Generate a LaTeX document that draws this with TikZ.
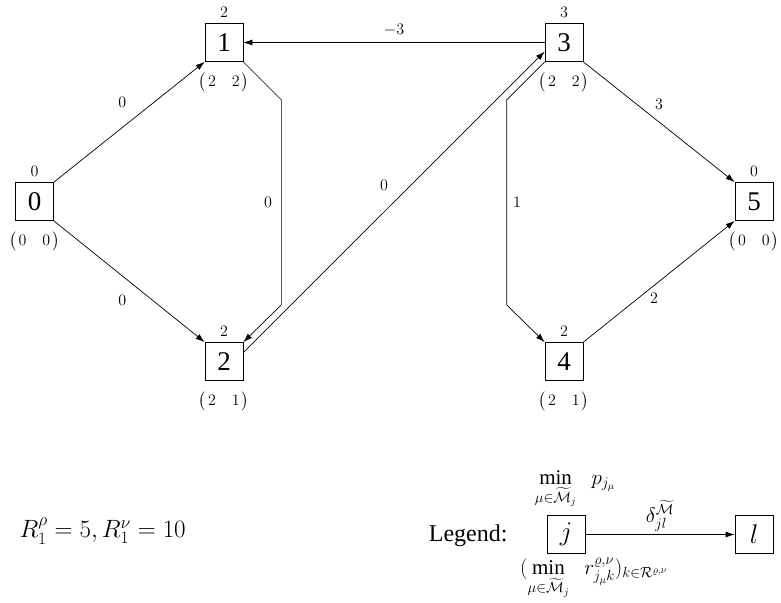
\RequirePackage{fix-cm}
\documentclass[tikz,border=0pt]{standalone}
\usepackage{amsmath,amssymb}
\usepackage{fontspec}
\setmainfont{Liberation Serif}
\usetikzlibrary{arrows.meta}
\begin{document}
\begin{tikzpicture}[x=1pt,y=-1pt,
  box/.style={draw, line width=0.7pt, minimum size=38pt, inner sep=0pt, font=\fontsize{27}{30}\selectfont},
  lab/.style={font=\fontsize{16}{19}\selectfont, inner sep=1pt},
  leglab/.style={font=\fontsize{21}{25}\selectfont, inner sep=1pt},
  edge/.style={line width=0.7pt, -{Latex[length=9pt,width=6pt]}},
]
\useasboundingbox (0,0) rectangle (781,602);
% nodes
\node[box] (n0) at (34.5,201.5) {0};
\node[box] (n1) at (224,42.5) {1};
\node[box] (n2) at (224,361.5) {2};
\node[box] (n3) at (564,42.5) {3};
\node[box] (n4) at (564,361.5) {4};
\node[box] (n5) at (754,201.5) {5};
% labels above
\node[lab] (a0) at (34.5,171) {$0$};
\node[lab] (a1) at (224,12) {$2$};
\node[lab] (a2) at (224,331) {$2$};
\node[lab] (a3) at (564,12) {$3$};
\node[lab] (a4) at (564,331) {$2$};
\node[lab] (a5) at (754,171) {$0$};
% labels below
\node[lab] (b0) at (34.5,241.5) {$\bigl(\hspace{2pt}0\hspace{16pt}0\hspace{2pt}\bigr)$};
\node[lab] (b1) at (224,82.5) {$\bigl(\hspace{2pt}2\hspace{16pt}2\hspace{2pt}\bigr)$};
\node[lab] (b2) at (224,401.5) {$\bigl(\hspace{2pt}2\hspace{16pt}1\hspace{2pt}\bigr)$};
\node[lab] (b3) at (564,82.5) {$\bigl(\hspace{2pt}2\hspace{16pt}2\hspace{2pt}\bigr)$};
\node[lab] (b4) at (564,401.5) {$\bigl(\hspace{2pt}2\hspace{16pt}1\hspace{2pt}\bigr)$};
\node[lab] (b5) at (754,241.5) {$\bigl(\hspace{2pt}0\hspace{16pt}0\hspace{2pt}\bigr)$};
% edges
\draw[edge] (n0.north east) -- node[lab, xshift=-7pt, yshift=20pt] {$0$} (n1.south west);
\draw[edge] (n0.south east) -- node[lab, xshift=-7pt, yshift=-19pt] {$0$} (n2.north west);
\draw[edge] (n1.south east) -- ++(38,38) -- node[lab, left=8pt] {$0$} ++(0,205) -- (n2.north east);
\draw[edge] (n2.25) -- node[lab, xshift=-10pt, yshift=17pt] {$0$} (n3.205);
\draw[edge] (n3.west) -- node[lab, above=5pt] {$-3$} (n1.east);
\draw[edge] (n3.south west) -- ++(-38,38) -- node[lab, right=5pt] {$1$} ++(0,205) -- (n4.north west);
\draw[edge] (n3.south east) -- node[lab, yshift=18pt] {$3$} (n5.north west);
\draw[edge] (n4.north east) -- node[lab, xshift=-5pt, yshift=-17pt] {$2$} (n5.south west);
% bottom text
\node[font=\fontsize{25}{30}\selectfont, anchor=west] (R) at (16,531) {$R_1^\rho=5, R_1^\nu=10$};
% legend
\node[box] (j) at (566,534.5) {$j$};
\node[box] (l) at (754,534.5) {$l$};
\draw[edge] (j) -- node[leglab, above=2pt] {$\delta_{jl}^{\widetilde{\mathcal{M}}}$} (l);
\node[font=\fontsize{24}{28}\selectfont, anchor=east] (leg) at (511,536) {Legend:};
\node[leglab, anchor=south] (jt) at (575,510) {$\displaystyle\min_{\mu\in\widetilde{\mathcal{M}}_j}\;\; p_{j_\mu}$};
\node[leglab, anchor=north west] (jb) at (519,557) {$\displaystyle(\min_{\mu\in\widetilde{\mathcal{M}}_j}\;\; r^{\varrho,\nu}_{j_\mu k})_{k\in\mathcal{R}^{\varrho,\nu}}$};
\end{tikzpicture}
\end{document}
